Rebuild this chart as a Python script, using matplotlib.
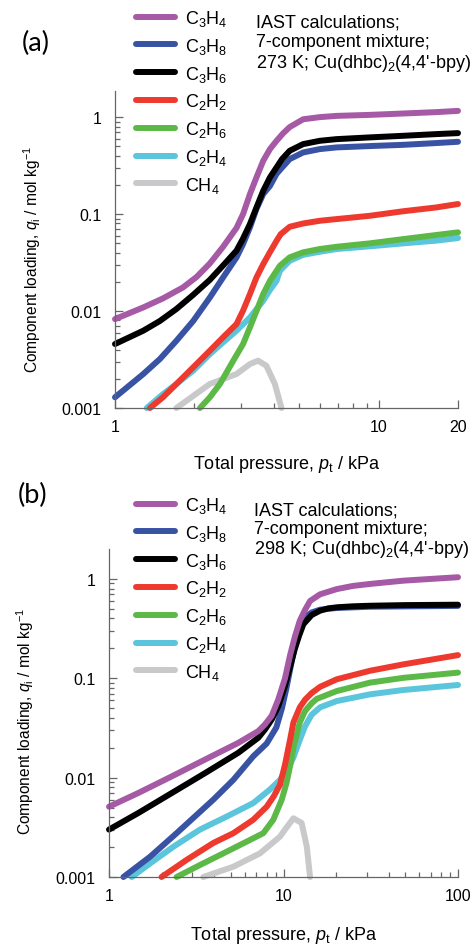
import matplotlib
matplotlib.use("Agg")
import matplotlib.pyplot as plt
from matplotlib.ticker import FixedLocator, FixedFormatter, NullFormatter

plt.rcParams['font.family'] = ['Liberation Sans', 'DejaVu Sans']
plt.rcParams['mathtext.fontset'] = 'custom'
plt.rcParams['mathtext.rm'] = 'Liberation Sans'
plt.rcParams['mathtext.it'] = 'Liberation Sans:italic'
plt.rcParams['mathtext.bf'] = 'Liberation Sans:bold'

species = ['C$_3$H$_4$', 'C$_3$H$_8$', 'C$_3$H$_6$', 'C$_2$H$_2$',
           'C$_2$H$_6$', 'C$_2$H$_4$', 'CH$_4$']
colors = ['#A65AA6', '#3953A4', '#000000', '#EE3A2E',
          '#5DB947', '#5BC5DB', '#C9C9CB']

# ---- (a) 273 K: total pressure (kPa) and component loading (mol/kg) ----
p273_C3H4 = [1.0, 1.28, 1.52, 1.81, 2.04, 2.29, 2.57, 2.89, 3.06, 3.25, 3.44, 3.65, 3.87, 4.1, 4.34, 4.6, 5.17, 5.98, 6.92, 9.25, 12.4, 16.5, 20.0]
q273_C3H4 = [0.00826, 0.0109, 0.0135, 0.0175, 0.0225, 0.031, 0.046, 0.072, 0.10, 0.161, 0.239, 0.355, 0.468, 0.57, 0.68, 0.79, 0.95, 1.0, 1.03, 1.055, 1.09, 1.126, 1.16]
p273_C3H8 = [1.0, 1.28, 1.48, 1.71, 1.98, 2.29, 2.57, 2.89, 3.06, 3.25, 3.44, 3.65, 3.87, 4.1, 4.34, 4.6, 5.17, 5.98, 6.92, 9.25, 12.4, 16.5, 20.0]
q273_C3H8 = [0.00129, 0.00224, 0.0032, 0.00494, 0.0079, 0.0138, 0.0222, 0.0357, 0.049, 0.073, 0.113, 0.161, 0.195, 0.26, 0.31, 0.369, 0.432, 0.468, 0.487, 0.503, 0.518, 0.54, 0.557]
p273_C3H6 = [1.0, 1.28, 1.48, 1.71, 1.98, 2.29, 2.57, 2.89, 3.06, 3.25, 3.44, 3.65, 3.87, 4.1, 4.3, 4.6, 5.17, 5.98, 6.92, 9.25, 12.4, 16.5, 20.0]
q273_C3H6 = [0.00457, 0.00627, 0.0079, 0.0105, 0.0147, 0.021, 0.0295, 0.042, 0.056, 0.079, 0.117, 0.174, 0.239, 0.303, 0.369, 0.45, 0.527, 0.57, 0.593, 0.618, 0.642, 0.668, 0.684]
p273_C2H2 = [1.357, 1.52, 1.71, 1.98, 2.29, 2.57, 2.89, 3.06, 3.25, 3.44, 3.65, 3.87, 4.1, 4.25, 4.6, 5.17, 5.98, 6.92, 9.25, 12.4, 16.5, 20.0]
q273_C2H2 = [0.001, 0.00129, 0.00177, 0.00263, 0.0039, 0.00536, 0.00734, 0.0101, 0.015, 0.0222, 0.0305, 0.0405, 0.053, 0.062, 0.074, 0.080, 0.0853, 0.0888, 0.096, 0.107, 0.117, 0.127]
p273_C2H6 = [2.1, 2.29, 2.5, 2.81, 3.06, 3.25, 3.44, 3.65, 3.87, 4.1, 4.22, 4.6, 5.17, 5.98, 6.92, 9.25, 12.4, 16.5, 20.0]
q273_C2H6 = [0.001, 0.00129, 0.00177, 0.00308, 0.00457, 0.0068, 0.010, 0.015, 0.0205, 0.026, 0.0293, 0.0358, 0.0403, 0.0436, 0.046, 0.0499, 0.0552, 0.0608, 0.0648]
p273_C2H4 = [1.32, 1.52, 1.71, 1.98, 2.29, 2.57, 2.89, 3.25, 3.65, 3.87, 4.1, 4.22, 4.6, 5.17, 5.98, 6.92, 9.25, 12.4, 16.5, 20.0]
q273_C2H4 = [0.001, 0.00139, 0.00177, 0.00243, 0.0036, 0.00475, 0.00627, 0.0086, 0.0128, 0.0165, 0.0205, 0.026, 0.033, 0.038, 0.0409, 0.0436, 0.0465, 0.0499, 0.0532, 0.0566]
p273_CH4 = [1.71, 2.29, 2.89, 3.25, 3.49, 3.75, 4.04, 4.28]
q273_CH4 = [0.001, 0.00177, 0.00224, 0.00284, 0.00308, 0.00273, 0.00177, 0.001]

# ---- (b) 298 K ----
p298_C3H4 = [1.0, 1.47, 2.29, 3.55, 5.51, 7.17, 7.83, 8.56, 9.34, 10.2, 10.9, 11.6, 12.4, 13.3, 14.2, 16.2, 20.2, 25.0, 31.3, 48.6, 70.0, 100.0]
q298_C3H4 = [0.0051, 0.007, 0.0103, 0.0152, 0.0224, 0.0294, 0.0343, 0.042, 0.0614, 0.10, 0.17, 0.26, 0.38, 0.49, 0.60, 0.70, 0.79, 0.85, 0.89, 0.96, 1.0, 1.04]
p298_C3H8 = [1.21, 1.72, 2.44, 3.96, 5.16, 6.71, 8.0, 9.1, 9.8, 10.4, 11.6, 13.0, 14.5, 16.2, 20.2, 31.3, 100.0]
q298_C3H8 = [0.001, 0.0016, 0.00276, 0.006, 0.0095, 0.0164, 0.022, 0.032, 0.05, 0.08, 0.21, 0.40, 0.46, 0.49, 0.51, 0.525, 0.535]
p298_C3H6 = [1.0, 1.47, 2.29, 3.55, 5.51, 7.17, 7.83, 8.56, 9.34, 10.2, 11.6, 12.3, 13.0, 14.5, 16.2, 18.0, 20.2, 25.0, 31.3, 50.0, 100.0]
q298_C3H6 = [0.003, 0.0044, 0.007, 0.0111, 0.0178, 0.0252, 0.0305, 0.0385, 0.0525, 0.0836, 0.196, 0.27, 0.35, 0.433, 0.479, 0.505, 0.518, 0.53, 0.537, 0.545, 0.55]
p298_C2H2 = [2.0, 2.79, 3.96, 5.16, 6.71, 8.01, 8.8, 9.55, 10.2, 10.9, 11.4, 12.4, 13.3, 14.5, 16.2, 20.2, 31.3, 48.6, 100.0]
q298_C2H2 = [0.001, 0.00149, 0.0022, 0.00276, 0.00377, 0.0051, 0.0065, 0.0085, 0.0135, 0.024, 0.036, 0.051, 0.061, 0.071, 0.082, 0.0977, 0.119, 0.138, 0.171]
p298_C2H6 = [2.44, 3.32, 4.73, 6.15, 7.66, 8.74, 9.77, 10.4, 10.9, 11.4, 12.4, 13.3, 14.5, 15.5, 20.2, 31.3, 48.6, 100.0]
q298_C2H6 = [0.001, 0.00132, 0.0018, 0.00227, 0.00276, 0.00377, 0.006, 0.0088, 0.013, 0.02, 0.036, 0.047, 0.056, 0.062, 0.0744, 0.0904, 0.101, 0.114]
p298_C2H4 = [1.35, 1.72, 2.34, 3.32, 4.73, 6.71, 8.37, 9.55, 10.2, 10.9, 11.4, 12.4, 13.3, 14.5, 16.2, 20.2, 31.3, 48.6, 100.0]
q298_C2H4 = [0.001, 0.00137, 0.00202, 0.003, 0.00406, 0.00555, 0.0076, 0.0095, 0.0115, 0.0135, 0.016, 0.024, 0.033, 0.043, 0.051, 0.059, 0.0689, 0.0762, 0.0856]
p298_CH4 = [3.47, 5.16, 7.33, 9.55, 10.2, 11.4, 12.7, 13.6, 14.2]
q298_CH4 = [0.001, 0.00127, 0.00173, 0.00255, 0.0030, 0.0039, 0.0035, 0.00202, 0.001]

series_a = [(p273_C3H4, q273_C3H4), (p273_C3H8, q273_C3H8), (p273_C3H6, q273_C3H6),
            (p273_C2H2, q273_C2H2), (p273_C2H6, q273_C2H6), (p273_C2H4, q273_C2H4),
            (p273_CH4, q273_CH4)]
series_b = [(p298_C3H4, q298_C3H4), (p298_C3H8, q298_C3H8), (p298_C3H6, q298_C3H6),
            (p298_C2H2, q298_C2H2), (p298_C2H6, q298_C2H6), (p298_C2H4, q298_C2H4),
            (p298_CH4, q298_CH4)]

# draw order: lighter species underneath, heavy ones on top
draw_order = [6, 5, 4, 3, 1, 2, 0]

W, H = 471, 945
fig = plt.figure(figsize=(W / 100, H / 100), dpi=100)

def px_rect(left, right, top, bottom):
    return [left / W, 1 - bottom / H, (right - left) / W, (bottom - top) / H]

spine_col = '#666666'
FS_TICK = 11.5
FS_TEXT = 13
FS_YLAB = 11.2

def panel(rect, series, xmax, xticks, ylabel_x, ylabel_y, ymax):
    ax = fig.add_axes(rect)
    handles = [None] * 7
    for i in draw_order:
        p, q = series[i]
        ln, = ax.plot(p, q, color=colors[i], lw=4.3, solid_capstyle='round',
                      solid_joinstyle='round', clip_on=False, label=species[i])
        handles[i] = ln
    ax.set_xscale('log')
    ax.set_yscale('log')
    ax.set_xlim(1, xmax)
    ax.set_ylim(0.001, ymax)
    for s in ['top', 'right']:
        ax.spines[s].set_visible(False)
    for s in ['left', 'bottom']:
        ax.spines[s].set_color(spine_col)
        ax.spines[s].set_linewidth(0.9)
    ax.xaxis.set_major_locator(FixedLocator(xticks))
    ax.xaxis.set_major_formatter(FixedFormatter([f'{t:g}' for t in xticks]))
    minors = [m * d for d in (1, 10) for m in range(2, 10) if m * d < xmax]
    ax.xaxis.set_minor_locator(FixedLocator(minors))
    ax.xaxis.set_minor_formatter(NullFormatter())
    yt = [0.001, 0.01, 0.1, 1]
    ax.yaxis.set_major_locator(FixedLocator(yt))
    ax.yaxis.set_major_formatter(FixedFormatter(['0.001', '0.01', '0.1', '1']))
    ax.yaxis.set_minor_locator(FixedLocator([m * d for d in (0.001, 0.01, 0.1, 1)
                                             for m in range(2, 10) if m * d < ymax]))
    ax.yaxis.set_minor_formatter(NullFormatter())
    ax.tick_params(which='major', direction='in', length=6, width=0.9, color=spine_col,
                   labelsize=FS_TICK)
    ax.tick_params(axis='x', which='major', pad=8)
    ax.tick_params(axis='y', which='major', pad=9.5)
    ax.tick_params(which='minor', direction='in', length=3.5, width=0.9, color=spine_col)
    ax.set_xlabel('Total pressure, $p_\\mathrm{t}$ / kPa', fontsize=FS_TEXT)
    ax.xaxis.set_label_coords(0.5, -0.142)
    ax.set_ylabel('Component loading, $q_\\mathrm{i}$ / mol kg$^{-1}$', fontsize=FS_YLAB)
    ax.yaxis.set_label_coords(ylabel_x, ylabel_y)
    return ax, handles

ax1, h1 = panel(px_rect(115, 458, 92, 409), series_a, 20, [1, 10, 20], -0.21, 0.472, 1.86)
ax2, h2 = panel(px_rect(109, 458, 550, 878), series_b, 100, [1, 10, 100], -0.209, 0.476, 2.0)

def legend(ax, handles, x_px, y_px):
    ax.legend(handles, species, loc='upper left',
              bbox_to_anchor=(x_px / W, 1 - y_px / H), bbox_transform=fig.transFigure,
              frameon=False, fontsize=FS_TEXT, borderpad=0, borderaxespad=0,
              handlelength=2.16, handletextpad=0.55, labelspacing=0.43)

legend(ax1, h1, 136, 9)
legend(ax2, h2, 136, 496)

fig.text(256 / W, 1 - 15 / H,
         "IAST calculations;\n7-component mixture;\n273 K; Cu(dhbc)$_2$(4,4'-bpy)",
         fontsize=FS_TEXT, va='top', ha='left', linespacing=1.15)
fig.text(254 / W, 1 - 503 / H,
         "IAST calculations;\n7-component mixture;\n298 K; Cu(dhbc)$_2$(4,4'-bpy)",
         fontsize=FS_TEXT, va='top', ha='left', linespacing=1.08)

fig.text(36 / W, 1 - 43 / H, '(a)', fontsize=19.5, family=['Lato', 'DejaVu Sans'],
         ha='center', va='center')
fig.text(33 / W, 1 - 495 / H, '(b)', fontsize=19.5, family=['Lato', 'DejaVu Sans'],
         ha='center', va='center')

fig.savefig('out.png', dpi=100)
